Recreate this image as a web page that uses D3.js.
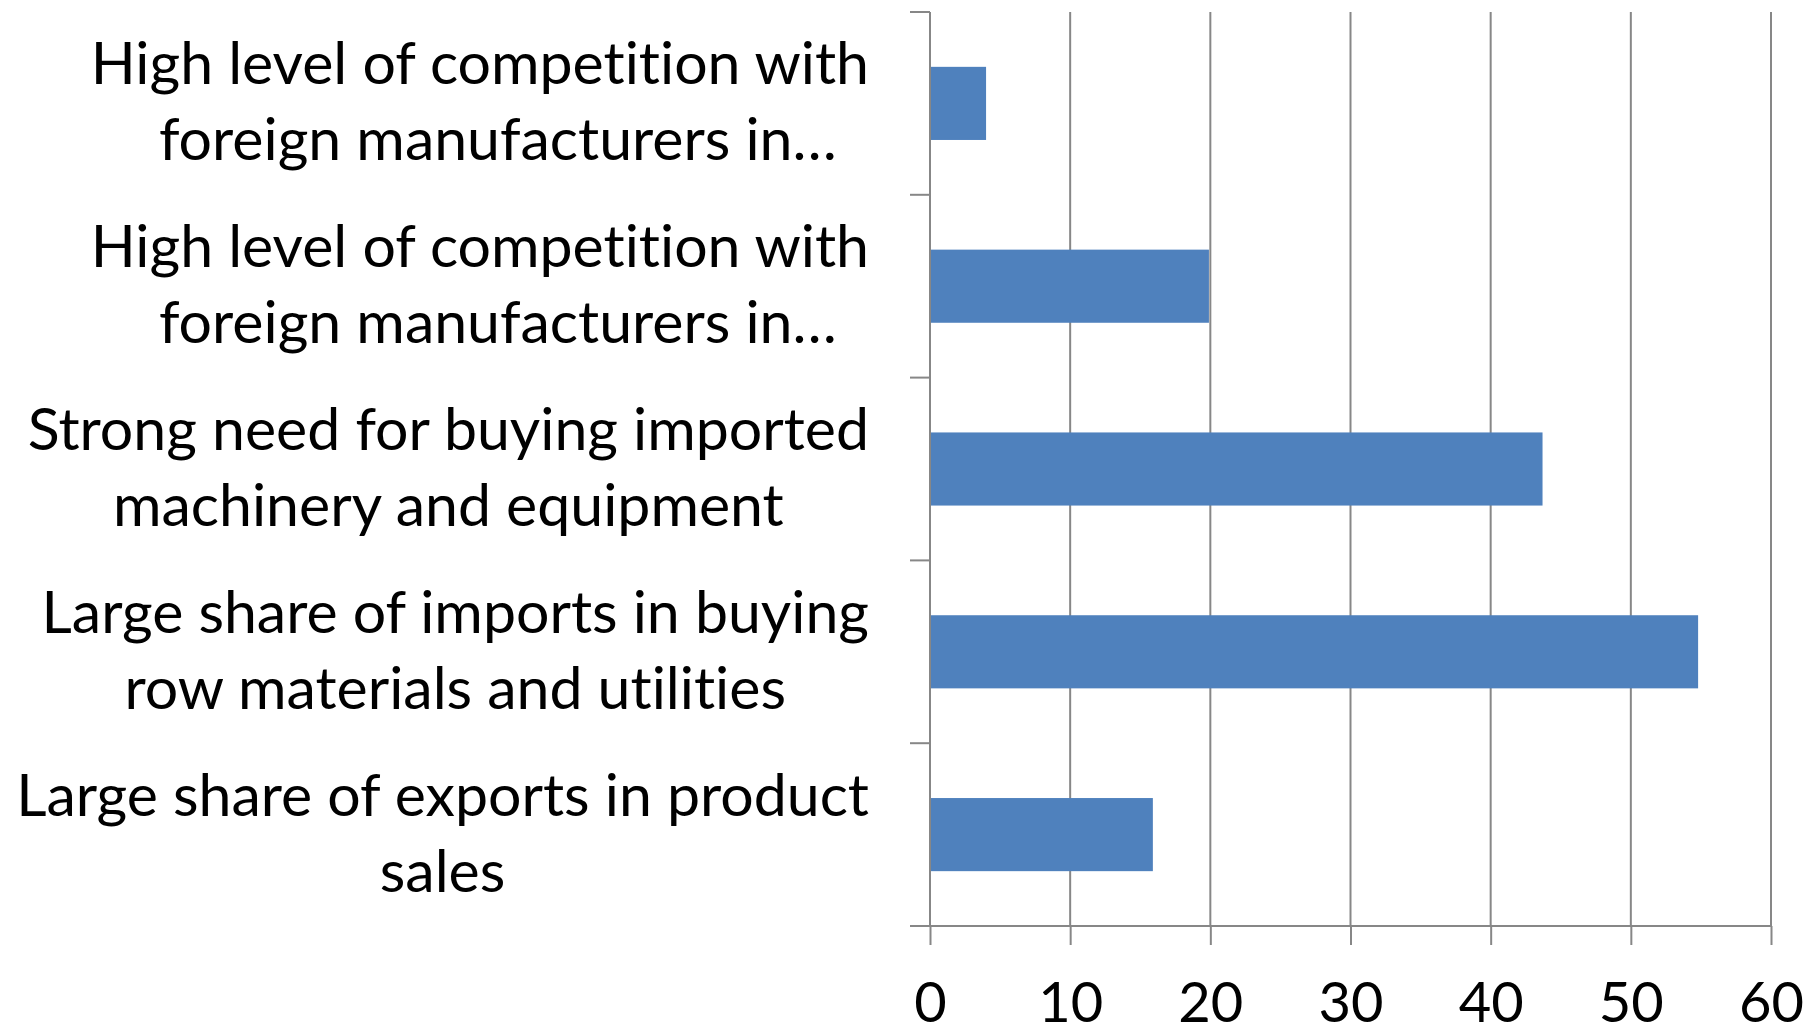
<!DOCTYPE html>
<html>
<head>
<meta charset="utf-8">
<script src="https://cdn.jsdelivr.net/npm/d3@7"></script>
<style>
  html, body { margin: 0; padding: 0; background: #ffffff; }
  svg { display: block; }
  text { font-family: Lato, "Noto Sans", sans-serif; fill: #000; font-variant-ligatures: none; }
</style>
</head>
<body>
<svg id="chart" width="1806" height="1034"></svg>
<script>
// Categories, top to bottom, with the wrapped lines shown on the axis
const categories = [
  "High level of competition with foreign manufacturers in the foreign market",
  "High level of competition with foreign manufacturers in the domestic market",
  "Strong need for buying imported machinery and equipment",
  "Large share of imports in buying row materials and utilities",
  "Large share of exports in product sales"
];
const categoryLines = [
  ["High level of competition with", "foreign manufacturers in\u2026"],
  ["High level of competition with", "foreign manufacturers in\u2026"],
  ["Strong need for buying imported", "machinery and equipment"],
  ["Large share of imports in buying", "row materials and utilities"],
  ["Large share of exports in product", "sales"]
];
const values = [4.0, 19.9, 43.7, 54.8, 15.9];
const xTicks = [0, 10, 20, 30, 40, 50, 60];

const svg = d3.select("#chart");
const plotLeft = 930, plotRight = 1771, plotTop = 12, plotBottom = 926;
const gridColor = "#878787";
const barColor = "#4F81BD";
const fontSize = 59;
const lineStep = 76;

const x = d3.scaleLinear().domain([0, 60]).range([plotLeft, plotRight]);
const y = d3.scaleBand().domain(categories).range([plotTop, plotBottom])
  .paddingInner(0.6).paddingOuter(0.3);

// Vertical gridlines
svg.append("g").selectAll("line").data(xTicks.slice(1)).join("line")
  .attr("x1", d => x(d)).attr("x2", d => x(d))
  .attr("y1", plotTop).attr("y2", plotBottom)
  .attr("stroke", gridColor).attr("stroke-width", 2);

// Bars
svg.append("g").selectAll("rect").data(categories).join("rect")
  .attr("x", x(0))
  .attr("y", d => y(d))
  .attr("width", (d, i) => x(values[i]) - x(0))
  .attr("height", y.bandwidth())
  .attr("fill", barColor);

// Category axis (left) with ticks on band boundaries
const step = y.step();
const boundaries = d3.range(categories.length + 1).map(i => plotTop + i * step);
const catAxis = svg.append("g");
catAxis.append("line")
  .attr("x1", plotLeft).attr("x2", plotLeft).attr("y1", plotTop).attr("y2", plotBottom)
  .attr("stroke", gridColor).attr("stroke-width", 2);
catAxis.selectAll("line.tick").data(boundaries).join("line")
  .attr("class", "tick")
  .attr("x1", plotLeft - 20).attr("x2", plotLeft).attr("y1", d => d).attr("y2", d => d)
  .attr("stroke", gridColor).attr("stroke-width", 2);

// Value axis (bottom)
const xAxis = d3.axisBottom(x).tickValues(xTicks).tickSize(19)
  .tickFormat(d3.format("d"));
const gx = svg.append("g").attr("transform", `translate(0,${plotBottom})`).call(xAxis);
gx.select(".domain").attr("stroke", gridColor).attr("stroke-width", 2)
  .attr("d", `M${plotLeft - 20},0H${plotRight}`);
gx.selectAll(".tick line").attr("stroke", gridColor).attr("stroke-width", 2);
gx.selectAll(".tick text")
  .attr("font-family", "Lato, 'Noto Sans', sans-serif")
  .attr("font-size", 56).attr("fill", "#000")
  .attr("dy", null).attr("y", 96);

// Category labels: lines centred within a block right-aligned to the axis
const labelRight = 869;
const labels = svg.append("g").attr("font-size", fontSize);
categories.forEach((c, i) => {
  const lines = categoryLines[i];
  const cy = y(c) + y.bandwidth() / 2;
  const t = labels.append("text").attr("text-anchor", "middle");
  const spans = lines.map((ln, j) => t.append("tspan")
    .attr("y", cy + (j - (lines.length - 1) / 2) * lineStep + 19)
    .text(ln));
  const widths = spans.map(s => s.node().getComputedTextLength());
  const cx = labelRight - d3.max(widths) / 2;
  spans.forEach((s, j) => {
    const shift = lines[j].endsWith("\u2026") ? 18 : 0;
    s.attr("x", cx + shift);
  });
});
</script>
</body>
</html>
